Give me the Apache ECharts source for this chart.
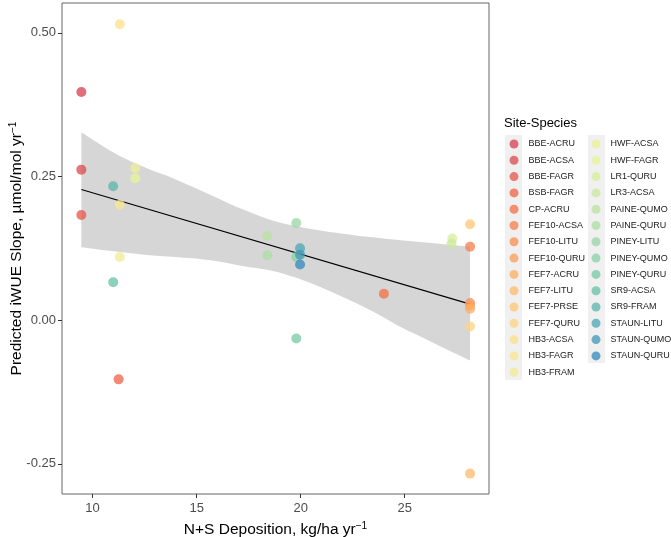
<!DOCTYPE html>
<html>
<head>
<meta charset="utf-8">
<script src="https://cdn.jsdelivr.net/npm/echarts@6.0.0/dist/echarts.min.js"></script>
<style>
  html, body { margin: 0; padding: 0; background: #fff; }
  #chart { width: 671px; height: 537px; }
</style>
</head>
<body>
<div id="chart"></div>
<script>
// site-species groups, one point each
const siteSpecies = [
  'BBE-ACRU', 'BBE-ACSA', 'BBE-FAGR', 'BSB-FAGR', 'CP-ACRU',
  'FEF10-ACSA', 'FEF10-LITU', 'FEF10-QURU', 'FEF7-ACRU', 'FEF7-LITU',
  'FEF7-PRSE', 'FEF7-QURU', 'HB3-ACSA', 'HB3-FAGR', 'HB3-FRAM',
  'HWF-ACSA', 'HWF-FAGR', 'LR1-QURU', 'LR3-ACSA', 'PAINE-QUMO',
  'PAINE-QURU', 'PINEY-LITU', 'PINEY-QUMO', 'PINEY-QURU', 'SR9-ACSA',
  'SR9-FRAM', 'STAUN-LITU', 'STAUN-QUMO', 'STAUN-QURU'
]
const deposition = [
  9.46, 9.46, 9.46, 11.25, 24.0,
  28.14, 28.14, 28.14, 28.14, 28.14,
  28.14, 28.14, 11.31, 11.31, 11.31,
  12.05, 12.05, 27.29, 27.25, 18.40,
  18.40, 19.79, 19.79, 19.79, 10.99,
  10.99, 19.97, 19.97, 19.97
]
const iwueSlope = [
  0.397, 0.262, 0.183, -0.103, 0.046,
  0.128, 0.030, 0.025, 0.020, -0.267,
  0.167, -0.011, 0.515, 0.201, 0.110,
  0.265, 0.247, 0.142, 0.133, 0.147,
  0.113, 0.169, 0.110, -0.032, 0.066,
  0.233, 0.125, 0.114, 0.097
]

// linear fit and its confidence band
const fitX = [9.46, 28.14]
const fitY = [0.2275, 0.0279]
const bandX = [9.46, 11.0, 12.5, 14.0, 15.67, 17.27, 18.88, 20.8, 23.21, 24.81, 26.41, 28.14]
const bandUpper = [0.327, 0.292, 0.266, 0.245, 0.218, 0.192, 0.171, 0.157, 0.145, 0.139, 0.134, 0.128]
const bandLower = [0.127, 0.120, 0.114, 0.110, 0.1045, 0.094, 0.084, 0.060, 0.020, -0.012, -0.040, -0.070]

const xTicks = [10, 15, 20, 25]
const yTicks = [-0.25, 0, 0.25, 0.5]

// Spectral (8) ramp, colorRampPalette style
const spectral = ['#D53E4F', '#F46D43', '#FDAE61', '#FEE08B', '#E6F598', '#ABDDA4', '#66C2A5', '#3288BD']
function ramp(n) {
  const rgb = spectral.map(h => [1, 3, 5].map(i => parseInt(h.substr(i, 2), 16)))
  const out = []
  for (let i = 0; i < n; i++) {
    const t = i * (rgb.length - 1) / (n - 1)
    const k = Math.min(Math.floor(t), rgb.length - 2)
    const f = t - k
    const c = rgb[k].map((v, j) => Math.round(v + (rgb[k + 1][j] - v) * f))
    out.push('rgb(' + c.join(',') + ')')
  }
  return out
}
const colors = ramp(siteSpecies.length)

// catmull-rom through pixel points -> svg cubic segments
function smoothPath(pts, start) {
  let d = (start ? 'M' : 'L') + pts[0][0] + ',' + pts[0][1]
  for (let i = 0; i < pts.length - 1; i++) {
    const p0 = pts[i - 1] || pts[i]
    const p1 = pts[i]
    const p2 = pts[i + 1]
    const p3 = pts[i + 2] || p2
    const c1 = [p1[0] + (p2[0] - p0[0]) / 6, p1[1] + (p2[1] - p0[1]) / 6]
    const c2 = [p2[0] - (p3[0] - p1[0]) / 6, p2[1] - (p3[1] - p1[1]) / 6]
    d += 'C' + c1.join(',') + ' ' + c2.join(',') + ' ' + p2.join(',')
  }
  return d
}

const chart = echarts.init(document.getElementById('chart'))

const pointSeries = siteSpecies.map((name, i) => ({
  name: name,
  type: 'scatter',
  data: [[deposition[i], iwueSlope[i]]],
  symbolSize: 10,
  itemStyle: { color: colors[i], opacity: 0.75 },
  z: 5
}))

const split = 15
const legendText = { fontSize: 9, color: '#1a1a1a', fontFamily: 'Liberation Sans', lineHeight: 12, padding: [0, 0, 0, 5] }
const nameRich = {
  b: { fontSize: 15.5, color: '#000', fontFamily: 'Liberation Sans', lineHeight: 18 },
  s: { fontSize: 10, color: '#000', fontFamily: 'Liberation Sans', verticalAlign: 'top', lineHeight: 10 }
}

chart.setOption({
  animation: false,
  textStyle: { fontFamily: 'Liberation Sans' },
  title: {
    text: 'Site-Species',
    left: 504,
    top: 117,
    padding: 0,
    textStyle: { fontSize: 13, fontWeight: 'normal', color: '#000', fontFamily: 'Liberation Sans' }
  },
  graphic: [
    { type: 'rect', shape: { x: 505, y: 135, width: 17, height: 245 }, style: { fill: '#f0f0f0' }, z: -1 },
    { type: 'rect', shape: { x: 588, y: 135, width: 17, height: 228 }, style: { fill: '#f0f0f0' }, z: -1 }
  ],
  legend: [
    {
      data: siteSpecies.slice(0, split),
      orient: 'vertical',
      left: 509.5,
      top: 138,
      padding: 0,
      itemGap: 4.3,
      itemWidth: 9,
      itemHeight: 9,
      icon: 'circle',
      selectedMode: false,
      textStyle: legendText
    },
    {
      data: siteSpecies.slice(split),
      orient: 'vertical',
      left: 591.5,
      top: 138,
      padding: 0,
      itemGap: 4.3,
      itemWidth: 9,
      itemHeight: 9,
      icon: 'circle',
      selectedMode: false,
      textStyle: legendText
    }
  ],
  grid: {
    left: 62,
    right: 182,
    top: 3,
    bottom: 43,
    outerBoundsMode: 'none',
    containLabel: false,
    show: true,
    borderColor: '#666',
    borderWidth: 1,
    backgroundColor: '#fff'
  },
  xAxis: {
    type: 'value',
    min: 8.53,
    max: 29.05,
    splitLine: { show: false },
    axisLine: { show: false, onZero: false },
    axisTick: { show: true, length: 4, lineStyle: { color: '#333' }, customValues: xTicks },
    axisLabel: { fontSize: 13, color: '#4d4d4d', margin: 8, customValues: xTicks },
    name: '{b|N+S Deposition, kg/ha yr}{s|−1}',
    nameLocation: 'middle',
    nameGap: 27,
    nameMoveOverlap: false,
    nameTextStyle: { rich: nameRich }
  },
  yAxis: {
    type: 'value',
    min: -0.3025,
    max: 0.552,
    splitLine: { show: false },
    axisLine: { show: false, onZero: false },
    axisTick: { show: true, length: 4, lineStyle: { color: '#333' }, customValues: yTicks },
    axisLabel: { fontSize: 13, color: '#4d4d4d', margin: 6, customValues: yTicks, formatter: v => v.toFixed(2) },
    name: '{b|Predicted iWUE Slope, µmol/mol yr}{s|−1}',
    nameLocation: 'middle',
    nameRotate: 90,
    nameGap: 36,
    nameMoveOverlap: false,
    nameTextStyle: { rich: nameRich }
  },
  series: [
    {
      name: 'ci-band',
      type: 'custom',
      silent: true,
      z: 1,
      data: [[bandX[0], bandUpper[0]]],
      renderItem: (params, api) => {
        const up = bandX.map((x, i) => api.coord([x, bandUpper[i]]))
        const lo = bandX.map((x, i) => api.coord([x, bandLower[i]])).reverse()
        return {
          type: 'path',
          shape: { pathData: smoothPath(up, true) + smoothPath(lo, false) + 'Z' },
          style: { fill: 'rgba(153,153,153,0.4)', stroke: null }
        }
      }
    },
    {
      name: 'fit',
      type: 'line',
      data: fitX.map((x, i) => [x, fitY[i]]),
      symbol: 'none',
      silent: true,
      lineStyle: { color: '#000', width: 1.1 },
      z: 2
    }
  ].concat(pointSeries)
})
</script>
</body>
</html>
